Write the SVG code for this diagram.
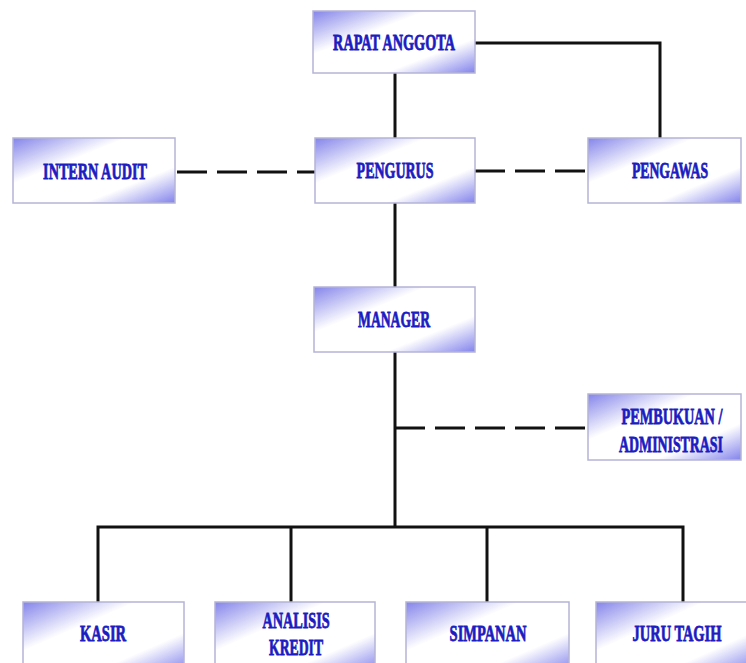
<svg xmlns="http://www.w3.org/2000/svg" width="746" height="663" viewBox="0 0 746 663">
<defs>
<linearGradient id="g" x1="0" y1="0" x2="1" y2="1">
<stop offset="0" stop-color="#8484ea"/>
<stop offset="0.35" stop-color="#ffffff"/>
<stop offset="0.72" stop-color="#ffffff"/>
<stop offset="1" stop-color="#8282ec"/>
</linearGradient>
<style>
.box{fill:url(#g);stroke:#b4b4d6;stroke-width:1.5}
.t{font-family:"Liberation Serif",serif;font-weight:bold;font-size:23px;fill:#1c1cc0;stroke:#1c1cc0;stroke-width:0.8;text-anchor:middle}
.c{stroke:#111;stroke-width:3;fill:none}
.d{stroke:#111;stroke-width:3;fill:none;stroke-dasharray:30 10}
</style>
</defs>
<rect width="746" height="663" fill="#fff"/>
<g id="connectors">
<line class="c" x1="395" y1="73" x2="395" y2="138"/>
<polyline class="c" points="475,43 660,43 660,138"/>
<line class="d" x1="177" y1="172" x2="315" y2="172"/>
<line class="d" x1="475" y1="171" x2="588" y2="171"/>
<line class="c" x1="395" y1="203" x2="395" y2="287"/>
<line class="c" x1="395" y1="352" x2="395" y2="527"/>
<line class="d" x1="395" y1="428" x2="588" y2="428"/>
<polyline class="c" points="98,602 98,527 683,527 683,602"/>
<line class="c" x1="291" y1="527" x2="291" y2="602"/>
<line class="c" x1="487" y1="527" x2="487" y2="602"/>
</g>
<g id="rapat-anggota"><rect class="box" x="313" y="11" width="162" height="62"/><text class="t" transform="translate(394,50) scale(0.6,1)" textLength="203" lengthAdjust="spacingAndGlyphs">RAPAT ANGGOTA</text></g>
<g id="intern-audit"><rect class="box" x="13" y="138" width="162" height="65"/><text class="t" transform="translate(95,179) scale(0.6,1)" textLength="173" lengthAdjust="spacingAndGlyphs">INTERN AUDIT</text></g>
<g id="pengurus"><rect class="box" x="315" y="138" width="160" height="65"/><text class="t" transform="translate(395,178) scale(0.6,1)" textLength="128" lengthAdjust="spacingAndGlyphs">PENGURUS</text></g>
<g id="pengawas"><rect class="box" x="588" y="138" width="153" height="65"/><text class="t" transform="translate(670,178) scale(0.6,1)" textLength="127" lengthAdjust="spacingAndGlyphs">PENGAWAS</text></g>
<g id="manager"><rect class="box" x="314" y="287" width="161" height="65"/><text class="t" transform="translate(394,327) scale(0.6,1)" textLength="120" lengthAdjust="spacingAndGlyphs">MANAGER</text></g>
<g id="pembukuan"><rect class="box" x="588" y="394" width="153" height="66"/><text class="t" transform="translate(672,424) scale(0.6,1)" textLength="168" lengthAdjust="spacingAndGlyphs">PEMBUKUAN /</text><text class="t" transform="translate(671,452) scale(0.6,1)" textLength="173" lengthAdjust="spacingAndGlyphs">ADMINISTRASI</text></g>
<g id="kasir"><rect class="box" x="23" y="602" width="161" height="70"/><text class="t" transform="translate(103,641) scale(0.6,1)" textLength="77" lengthAdjust="spacingAndGlyphs">KASIR</text></g>
<g id="analisis-kredit"><rect class="box" x="215" y="602" width="160" height="70"/><text class="t" transform="translate(296,628) scale(0.6,1)" textLength="112" lengthAdjust="spacingAndGlyphs">ANALISIS</text><text class="t" transform="translate(296,655) scale(0.6,1)" textLength="90" lengthAdjust="spacingAndGlyphs">KREDIT</text></g>
<g id="simpanan"><rect class="box" x="406" y="602" width="163" height="70"/><text class="t" transform="translate(488,641) scale(0.6,1)" textLength="128" lengthAdjust="spacingAndGlyphs">SIMPANAN</text></g>
<g id="juru-tagih"><rect class="box" x="596" y="602" width="155" height="70"/><text class="t" transform="translate(677,641) scale(0.6,1)" textLength="148" lengthAdjust="spacingAndGlyphs">JURU TAGIH</text></g>
</svg>
